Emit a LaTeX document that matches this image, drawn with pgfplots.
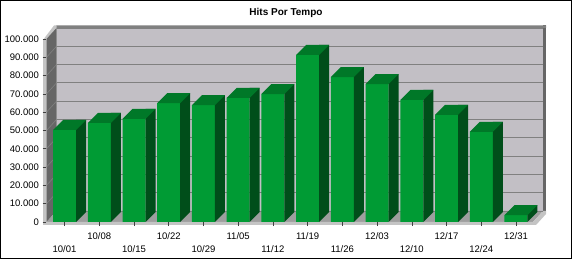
\documentclass[border=0pt]{standalone}
\usepackage{fontspec}
\setmainfont{Liberation Sans}
\usepackage{pgfplots}
\pgfplotsset{compat=1.18}
\usepackage{pgfplotstable}
\definecolor{frontg}{RGB}{0,155,52}
\definecolor{topg}{RGB}{0,120,40}
\definecolor{sideg}{RGB}{0,78,26}
\definecolor{wallbg}{RGB}{194,191,197}
\definecolor{leftwall}{RGB}{102,102,102}
\definecolor{floorc}{RGB}{158,158,158}
\definecolor{lipc}{RGB}{196,196,196}
\definecolor{gridc}{RGB}{128,128,128}

\pgfdeclareplotmark{bartop}{%
  \pgfpathmoveto{\pgfpoint{-11.5pt}{0pt}}%
  \pgfpathlineto{\pgfpoint{11.5pt}{0pt}}%
  \pgfpathlineto{\pgfpoint{21.5pt}{10pt}}%
  \pgfpathlineto{\pgfpoint{-1.5pt}{10pt}}%
  \pgfpathclose\pgfusepathqfill}
\pgfdeclareplotmark{barbot}{%
  \pgfpathmoveto{\pgfpoint{11.5pt}{0pt}}%
  \pgfpathlineto{\pgfpoint{21.5pt}{10pt}}%
  \pgfpathlineto{\pgfpoint{11.5pt}{10pt}}%
  \pgfpathclose\pgfusepathqfill}

\pgfplotstableread{
x y base
0 50300 0
1 54100 0
2 56300 0
3 65000 0
4 63900 0
5 67800 0
6 69900 0
7 91300 0
8 79200 0
9 75400 0
10 66700 0
11 58500 0
12 49200 0
13 3800 0
}\hits

\begin{document}
\begin{tikzpicture}[x=1pt,y=1pt]
\useasboundingbox (0,0) rectangle (572,259);
% right edge strip
\fill[leftwall] (543,46) rectangle (546,233.5);
% back wall
\fill[wallbg] (56.5,48) rectangle (543,231);
% top strip
\fill[gridc] (54,231) -- (546,231) -- (546,233.5) -- (56.5,233.5) -- cycle;
% left wall lip
\fill[lipc] (43,34) -- (43,219) -- (54,233.5) -- (56.5,233.5) -- (56.5,48) -- (46.5,37) -- cycle;
% left wall
\fill[leftwall] (46.5,37) -- (46.5,220) -- (56.5,231) -- (56.5,48) -- cycle;
\foreach \k in {1,...,9} \draw[gridc, line width=0.6pt] (46.5,37+18.3*\k) -- (56.5,48+18.3*\k);
% floor
\fill[floorc] (46.5,37) -- (533,37) -- (543,48) -- (56.5,48) -- cycle;
\fill[lipc] (43,34) -- (536,34) -- (546,45) -- (546,48) -- (543,48) -- (533,37) -- (43,37) -- cycle;
\begin{axis}[
  at={(46.5pt,37pt)}, anchor=south west,
  scale only axis, width=486.5pt, height=183pt,
  xmin=-0.52, xmax=13.49, ymin=0, ymax=100000,
  clip=false,
  axis x line*=bottom, axis y line*=left,
  axis line style={draw=none},
  ytick={0,10000,20000,30000,40000,50000,60000,70000,80000,90000,100000},
  yticklabels={0,10.000,20.000,30.000,40.000,50.000,60.000,70.000,80.000,90.000,100.000},
  scaled y ticks=false,
  ymajorgrids,
  major grid style={draw=gridc, line width=0.8pt, xshift=10pt, yshift=11pt},
  xtick={1,3,5,7,9,11,13},
  xticklabels={10/08,10/22,11/05,11/19,12/03,12/17,12/31},
  extra x ticks={0,2,4,6,8,10,12},
  extra x tick labels={10/01,10/15,10/29,11/12,11/26,12/10,12/24},
  x tick label style={yshift=-3pt},
  extra x tick style={grid=none, tick label style={yshift=-13pt}},
  tick align=outside, major tick length=4pt,
  tick style={draw=black!75, line width=0.6pt},
  tick label style={font=\fontsize{9.5}{11}\selectfont},
]
\addplot[ybar, bar width=23pt, bar shift=0pt, fill=frontg, draw=none] table[x=x,y=y]{\hits};
\addplot[ybar, bar width=10pt, bar shift=16.5pt, fill=sideg, draw=none, yshift=10pt] table[x=x,y=y]{\hits};
\addplot[only marks, mark=barbot, mark options={fill=sideg, draw=none}] table[x=x,y=base]{\hits};
\addplot[only marks, mark=bartop, mark options={fill=topg, draw=none}] table[x=x,y=y]{\hits};
\end{axis}
\node[font=\bfseries\fontsize{10}{12}\selectfont] at (286,246) {Hits Por Tempo};
\draw[line width=1pt] (0.5,0.5) rectangle (571.5,258.5);
\end{tikzpicture}
\end{document}
